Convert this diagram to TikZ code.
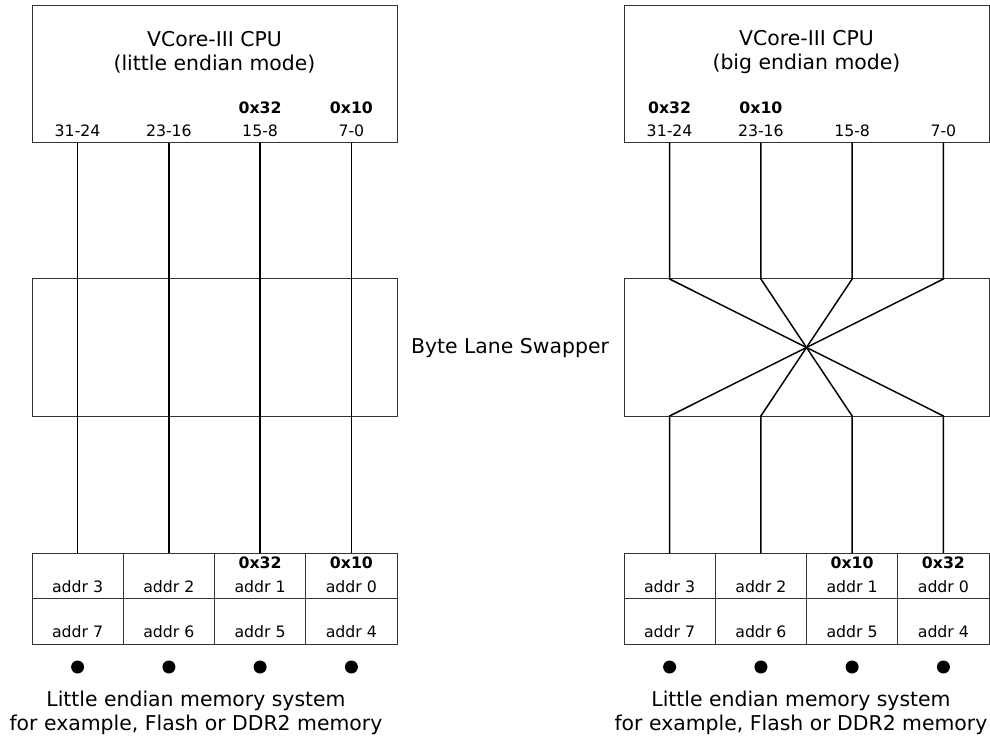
\documentclass[tikz,border=0pt]{standalone}
\usepackage{fontspec}
\setmainfont{DejaVu Sans}
\usepackage{tikz}

\tikzset{
  box/.style={draw=black!80, line width=0.75pt, inner sep=0pt, outer sep=0pt},
  cpubox/.style={box, minimum width=273.75pt, minimum height=102.75pt},
  cell/.style={box, minimum width=68.4375pt, minimum height=34.125pt},
  wire/.style={line width=1.1pt},
  big/.style={font=\fontsize{15.3}{18}\selectfont, align=center, inner sep=0pt},
  small/.style={font=\fontsize{11.8}{14}\selectfont, inner sep=0pt},
  hex/.style={font=\fontsize{11.8}{14}\selectfont\bfseries, inner sep=0pt},
  dot/.style={circle, fill, inner sep=0pt, minimum size=9.75pt}
}

\begin{document}
\begin{tikzpicture}[x=0.75pt,y=-0.75pt]
\fill[white] (0,0) rectangle (990,738);
\useasboundingbox (0,0) rectangle (990,738);

% little endian side
\node[cpubox] (cpuL) at (214.5,74.5) {};
\node[big] (titleL) at (214.5,52) {VCore-III CPU\\(little endian mode)};
\node[small] (b3L) at (77.6,131) {31-24}; \node[small] (b2L) at (168.9,131) {23-16};
\node[small] (b1L) at (260.1,131) {15-8}; \node[small] (b0L) at (351.4,131) {7-0};
\node[hex] (h1L) at (260.1,108) {0x32}; \node[hex] (h0L) at (351.4,108) {0x10};
\node[cpubox] (swL) at (214.5,347.5) {};

\node[cell] (m3L) at (77.625,575.75) {}; \node[cell] (m2L) at (168.875,575.75) {};
\node[cell] (m1L) at (260.125,575.75) {}; \node[cell] (m0L) at (351.375,575.75) {};
\node[cell] (m7L) at (77.625,621.25) {}; \node[cell] (m6L) at (168.875,621.25) {};
\node[cell] (m5L) at (260.125,621.25) {}; \node[cell] (m4L) at (351.375,621.25) {};
\node[hex] (v1L) at (260.1,563) {0x32}; \node[hex] (v0L) at (351.4,563) {0x10};
\node[small] (a3L) at (77.6,587) {addr 3}; \node[small] (a2L) at (168.9,587) {addr 2};
\node[small] (a1L) at (260.1,587) {addr 1}; \node[small] (a0L) at (351.4,587) {addr 0};
\node[small] (a7L) at (77.6,632) {addr 7}; \node[small] (a6L) at (168.9,632) {addr 6};
\node[small] (a5L) at (260.1,632) {addr 5}; \node[small] (a4L) at (351.4,632) {addr 4};

\draw[wire] (m3L.north |- cpuL.south) -- (m3L.north);
\draw[wire] (m2L.north |- cpuL.south) -- (m2L.north);
\draw[wire] (m1L.north |- cpuL.south) -- (m1L.north);
\draw[wire] (m0L.north |- cpuL.south) -- (m0L.north);

\node[dot] (p3L) at (77.6,667) {}; \node[dot] (p2L) at (168.9,667) {};
\node[dot] (p1L) at (260.1,667) {}; \node[dot] (p0L) at (351.4,667) {};
\node[big] (memL) at (196,713) {Little endian memory system\\for example, Flash or DDR2 memory};

\node[big] (swap) at (510,348) {Byte Lane Swapper};

% big endian side
\node[cpubox] (cpuR) at (806.5,74.5) {};
\node[big] (titleR) at (806.5,52) {VCore-III CPU\\(big endian mode)};
\node[small] (b3R) at (669.6,131) {31-24}; \node[small] (b2R) at (760.9,131) {23-16};
\node[small] (b1R) at (852.1,131) {15-8}; \node[small] (b0R) at (943.4,131) {7-0};
\node[hex] (h3R) at (669.6,108) {0x32}; \node[hex] (h2R) at (760.9,108) {0x10};
\node[cpubox] (swR) at (806.5,347.5) {};

\node[cell] (m3R) at (669.625,575.75) {}; \node[cell] (m2R) at (760.875,575.75) {};
\node[cell] (m1R) at (852.125,575.75) {}; \node[cell] (m0R) at (943.375,575.75) {};
\node[cell] (m7R) at (669.625,621.25) {}; \node[cell] (m6R) at (760.875,621.25) {};
\node[cell] (m5R) at (852.125,621.25) {}; \node[cell] (m4R) at (943.375,621.25) {};
\node[hex] (v1R) at (852.1,563) {0x10}; \node[hex] (v0R) at (943.4,563) {0x32};
\node[small] (a3R) at (669.6,587) {addr 3}; \node[small] (a2R) at (760.9,587) {addr 2};
\node[small] (a1R) at (852.1,587) {addr 1}; \node[small] (a0R) at (943.4,587) {addr 0};
\node[small] (a7R) at (669.6,632) {addr 7}; \node[small] (a6R) at (760.9,632) {addr 6};
\node[small] (a5R) at (852.1,632) {addr 5}; \node[small] (a4R) at (943.4,632) {addr 4};

\draw[wire] (m3R.north |- cpuR.south) -- (m3R.north |- swR.north) -- (swR.center) -- (m0R.north |- swR.south) -- (m0R.north);
\draw[wire] (m2R.north |- cpuR.south) -- (m2R.north |- swR.north) -- (swR.center) -- (m1R.north |- swR.south) -- (m1R.north);
\draw[wire] (m1R.north |- cpuR.south) -- (m1R.north |- swR.north) -- (swR.center) -- (m2R.north |- swR.south) -- (m2R.north);
\draw[wire] (m0R.north |- cpuR.south) -- (m0R.north |- swR.north) -- (swR.center) -- (m3R.north |- swR.south) -- (m3R.north);

\node[dot] (p3R) at (669.6,667) {}; \node[dot] (p2R) at (760.9,667) {};
\node[dot] (p1R) at (852.1,667) {}; \node[dot] (p0R) at (943.4,667) {};
\node[big] (memR) at (801,713) {Little endian memory system\\for example, Flash or DDR2 memory};

\end{tikzpicture}
\end{document}
